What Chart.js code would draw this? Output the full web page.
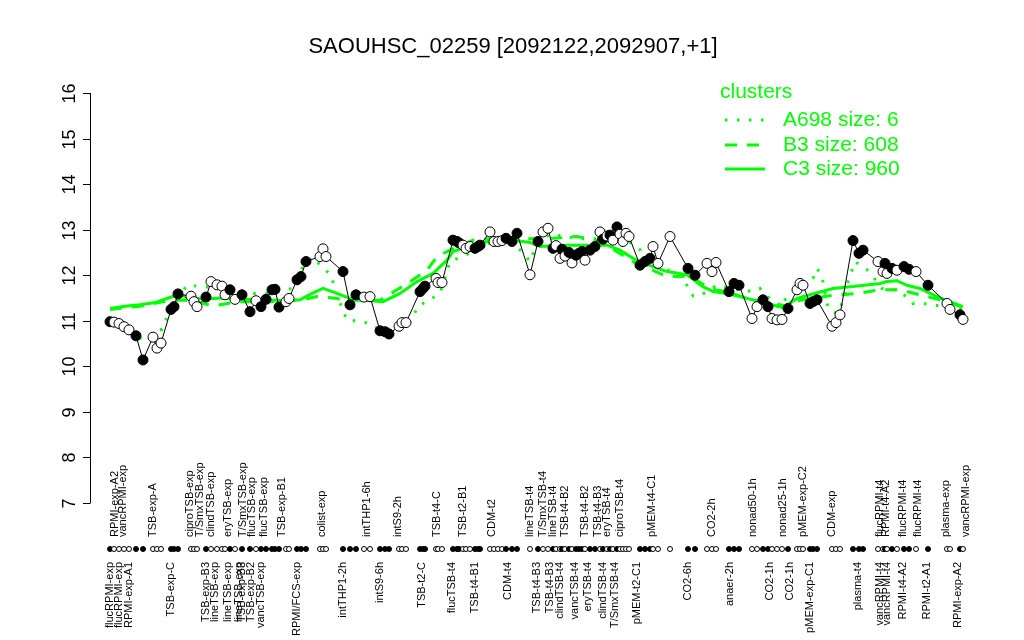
<!DOCTYPE html>
<html><head><meta charset="utf-8">
<script src="https://cdn.jsdelivr.net/npm/chart.js@4/dist/chart.umd.min.js"></script>
<style>html,body{margin:0;padding:0;background:#fff}#wrap{width:1024px;height:640px}</style>
</head><body><div id="wrap"><canvas id="c" width="1024" height="640"></canvas></div>
<script>
const titleText = 'SAOUHSC_02259 [2092122,2092907,+1]';
const yTicks = [7,8,9,10,11,12,13,14,15,16];
const samplePos = [2.5,3.5,4.75,6,7.25,9,10.75,13.25,14.25,15.25,17.75,18.5,19.5,22.75,23.5,24.25,26.5,27.75,29.25,30.5,31.25,32.5,33.75,35.5,37.5,39,40.25,41.5,43,43.75,44.75,46.5,47.25,49.25,50.25,51.5,55,55.75,56.5,60.75,62.5,64,66,67.5,70,71.25,72.25,74.75,75.5,76.5,80,80.75,81.25,84,84.5,85.5,88.25,89.25,89.75,90.75,91.5,92.5,93.75,94.5,95,97.5,98.5,99.5,100.5,101.5,103,104.25,107.5,109.5,110.75,112,113.25,114,115,115.5,116.25,117.25,118,119,119.75,120.5,121.25,122.5,123.75,125,125.75,126.75,127.5,128.25,129.25,130,130.75,131.5,132.25,135,136.25,137.5,138.25,139.5,142.5,147,148.75,151.75,153,154,157.25,158.5,159.75,163,164.25,165.75,167,168,169.25,170.5,172,174.25,175,175.75,177.5,178.25,179.25,183,184,185,188.25,189.75,190.75,194.5,195.75,196.25,196.75,198,199.25,201,202.25,204,207,211.75,212.5,215,215.75];
const expression = [10.98,10.97,10.94,10.87,10.80,10.67,10.14,10.64,10.40,10.51,11.25,11.31,11.59,11.54,11.42,11.31,11.52,11.86,11.79,11.76,11.57,11.68,11.47,11.57,11.20,11.44,11.31,11.47,11.68,11.69,11.30,11.42,11.49,11.90,11.97,12.30,12.41,12.58,12.41,12.08,11.35,11.57,11.52,11.53,10.78,10.76,10.71,10.88,10.96,10.96,11.64,11.71,11.76,11.93,11.84,11.84,12.77,12.74,12.71,12.66,12.59,12.63,12.59,12.63,12.66,12.95,12.74,12.74,12.76,12.81,12.74,12.92,12.01,12.74,12.95,13.03,12.59,12.65,12.37,12.57,12.42,12.50,12.27,12.44,12.48,12.52,12.33,12.55,12.63,12.95,12.79,12.86,12.88,12.77,13.06,12.90,12.74,12.92,12.85,12.22,12.30,12.37,12.63,12.26,12.85,12.15,12.00,12.26,12.08,12.28,11.64,11.82,11.78,11.05,11.31,11.46,11.31,11.05,11.02,11.03,11.27,11.68,11.82,11.78,11.38,11.42,11.46,10.88,10.96,11.13,12.76,12.48,12.55,12.30,12.08,12.26,12.04,12.15,12.11,12.19,12.13,12.08,11.78,11.38,11.25,11.13,11.03];
const filled = [1,0,0,0,0,1,1,0,0,0, 1,1,1,0,0,0,1,0,0,0, 0,1,0,1,1,0,1,1,1,1, 1,0,0,1,1,1,0,0,0,1, 1,1,0,0,1,1,1,0,0,0, 1,1,1,0,0,0,1,1,1,0, 0,0,1,1,1,0,0,0,0,1, 1,1,0,1,0,0,1,0,0,1, 0,1,0,1,1,1,0,1,1,0, 1,0,1,0,1,0,0,0,0,1, 1,1,0,0,0,1,1,0,0,0, 1,1,1,0,0,1,1,0,0,0, 1,0,0,0,1,1,1,0,0,0, 1,1,1,0,0,1,0,1,0,1, 1,0,1,0,0,1,0];
const topLabels = [[3.75,'RPMI-exp-A2'],[5.75,'vancRPMI-exp'],[13.25,'TSB-exp-A'],[22.5,'ciproTSB-exp'],[25,'T/SmxTSB-exp'],[27.75,'clindTSB-exp'],[32,'eryTSB-exp'],[35.75,'T/SmxTSB-exp'],[38,'flucTSB-exp'],[41,'flucTSB-exp'],[45.5,'TSB-exp-B1'],[55.5,'colist-exp'],[66.75,'intTHP1-6h'],[74.5,'intS9-2h'],[84.25,'TSB-t4-C'],[90.75,'TSB-t2-B1'],[98,'CDM-t2'],[107.5,'lineTSB-t4'],[110.75,'T/SmxTSB-t4'],[113.25,'lineTSB-t4'],[116.25,'TSB-t4-B2'],[121.25,'TSB-t4-B2'],[124.5,'TSB-t4-B3'],[126.75,'eryTSB-t4'],[130,'ciproTSB-t4'],[138,'pMEM-t4-C1'],[153,'CO2-2h'],[163.25,'nonad50-1h'],[170.75,'nonad25-1h'],[175.75,'pMEM-exp-C2'],[183,'CDM-exp'],[195,'flucRPMI-t4'],[196.5,'RPMI-t4-A2'],[200.75,'flucRPMI-t4'],[204.5,'flucRPMI-t4'],[211.5,'plasma-exp'],[216.5,'vancRPMI-exp']];
const bottomLabels = [[2.5,'flucRPMI-exp'],[4.75,'flucRPMI-exp'],[7.25,'RPMI-exp-A1'],[17.75,'TSB-exp-C'],[26.5,'TSB-exp-B3'],[28.75,'lineTSB-exp'],[32,'lineTSB-exp'],[34.75,'lineTSB-exp'],[35.5,'TSB-exp-B3'],[37.75,'TSB-exp-B2'],[40.25,'vancTSB-exp'],[49.25,'RPMI/FCS-exp'],[60.75,'intTHP1-2h'],[70,'intS9-6h'],[80.5,'TSB-t2-C'],[88,'flucTSB-t4'],[93.75,'TSB-t4-B1'],[102,'CDM-t4'],[109.25,'TSB-t4-B3'],[112.5,'TSB-t4-B3'],[115,'clindTSB-t4'],[118.75,'vancTSB-t4'],[122,'eryTSB-t4'],[125.75,'clindTSB-t4'],[128.75,'T/SmxTSB-t4'],[134.25,'pMEM-t2-C1'],[147,'CO2-6h'],[157.5,'anaer-2h'],[167.5,'CO2-1h'],[172.5,'CO2-1h'],[177.5,'pMEM-exp-C1'],[189.5,'plasma-t4'],[195,'vancRPMI-t4'],[196.75,'vancRPMI-t4'],[200.75,'RPMI-t4-A2'],[206.75,'RPMI-t2-A1'],[214.5,'RPMI-exp-A2']];
const c3Pos = [2.5,6.25,10,13.75,17.5,19.5,22.5,26.25,30.75,35,39.25,43.75,46.75,50,52.5,55.75,58.75,62.5,66.25,70.75,75,79.25,83.25,86.75,88.25,93.25,96.75,103.25,107.5,110,116.75,124.25,126.75,130,133.25,138.25,141.75,146.75,150.75,153.25,156.75,160,166.75,170.75,174.25,177.5,183.25,188.25,195,196.75,199.25,201.75,205,210,215.75];
const c3Val = [11.27,11.32,11.35,11.40,11.51,11.57,11.50,11.48,11.50,11.47,11.46,11.45,11.44,11.46,11.58,11.71,11.62,11.49,11.45,11.42,11.60,11.86,12.04,12.33,12.52,12.66,12.74,12.77,12.72,12.63,12.66,12.66,12.66,12.55,12.37,12.19,12.08,12.01,11.75,11.64,11.60,11.53,11.38,11.29,11.49,11.57,11.71,11.75,11.82,11.86,11.88,11.78,11.71,11.50,11.31];
const b3Pos = [2.5,10,17.5,22.5,28.25,35,42.5,50,54.25,58.25,62.5,70,74.25,77.5,81.75,84.25,87.5,93.25,100,107.5,113.25,119.25,125,133.25,141.75,147.5,152.5,157.5,161.25,166.25,171.25,175,182.5,189.25,195,200,205,210,215.75];
const b3Val = [11.25,11.32,11.45,11.45,11.33,11.42,11.42,11.45,11.53,11.50,11.45,11.45,11.68,11.86,12.11,12.41,12.55,12.77,12.82,12.80,12.81,12.85,12.75,12.30,11.97,11.98,11.70,11.62,11.50,11.42,11.33,11.45,11.55,11.60,11.68,11.68,11.57,11.46,11.30];
const a698Pos = [2.5,5,7.5,10,11.75,13,14.25,15.5,16.5,18,21.75,25,30.75,36.75,41.75,47.5,50,53,57.75,58.75,60,60.75,62,64.25,67,68.75,74.25,78,79.25,85,87.5,94.25,98.25,101.75,105.75,107.5,109.25,112.5,120,127.5,133.25,135.75,140,142.5,146.25,148.25,150,154.25,158.75,163.25,165,169.5,172,178.25,179.25,180.5,182,184.25,185.75,187,188.75,191.75,193.25,195.5,198,201.75,203.25,205.75,208.25,215.75];
const a698Val = [11.05,11.00,10.85,10.62,10.62,10.70,10.81,10.81,11.02,11.30,11.78,11.76,11.70,11.60,11.60,11.70,12.10,12.40,12.00,11.70,11.40,11.20,11.00,11.00,10.95,10.85,10.80,11.00,11.30,11.60,12.30,12.55,12.75,12.80,12.50,12.30,12.70,12.90,12.80,12.80,12.70,12.50,12.15,12.10,11.85,11.55,11.55,11.78,11.70,11.64,11.71,11.30,11.53,11.93,12.15,11.97,11.27,11.16,11.42,11.86,12.30,12.12,11.97,11.71,11.70,11.53,11.38,11.38,11.35,11.25];

const GREEN = '#00ff00';
const FONT = '"Liberation Sans", Arial, Helvetica, sans-serif';
const pts = samplePos.map((p,i)=>({x:p,y:expression[i]}));
const mk = (P,V)=>P.map((p,i)=>({x:p,y:V[i]}));

const decor = {
  id:'decor',
  afterDraw(chart){
    const ctx = chart.ctx, xs = chart.scales.x, ys = chart.scales.y;
    ctx.save();
    ctx.fillStyle = '#000';
    ctx.font = '22px ' + FONT;
    ctx.textAlign = 'center'; ctx.textBaseline = 'middle';
    ctx.fillText(titleText, 513, 47);
    const axX = chart.chartArea.left;
    ctx.strokeStyle = '#000'; ctx.lineWidth = 1;
    ctx.beginPath();
    ctx.moveTo(axX+0.5, ys.getPixelForValue(yTicks[0]));
    ctx.lineTo(axX+0.5, ys.getPixelForValue(yTicks[yTicks.length-1]));
    ctx.stroke();
    ctx.font = '18px ' + FONT;
    yTicks.forEach(t=>{
      const y = Math.round(ys.getPixelForValue(t))+0.5;
      ctx.beginPath(); ctx.moveTo(axX-7, y); ctx.lineTo(axX+0.5, y); ctx.stroke();
      ctx.save(); ctx.translate(axX-20, y); ctx.rotate(-Math.PI/2);
      ctx.textAlign='center'; ctx.textBaseline='middle'; ctx.fillText(String(t),0,0);
      ctx.restore();
    });
    samplePos.forEach((p,i)=>{
      const x = xs.getPixelForValue(p);
      ctx.beginPath(); ctx.arc(x, 549, 2.5, 0, Math.PI*2);
      ctx.fillStyle = filled[i] ? '#000' : '#fff'; ctx.fill();
      ctx.lineWidth = 1; ctx.strokeStyle = '#000'; ctx.stroke();
    });
    ctx.fillStyle = '#000';
    ctx.font = '11px ' + FONT;
    topLabels.forEach(([p,t])=>{
      const x = xs.getPixelForValue(p);
      ctx.save(); ctx.translate(x, 537); ctx.rotate(-Math.PI/2);
      ctx.textAlign='left'; ctx.textBaseline='middle'; ctx.fillText(t,0,0); ctx.restore();
    });
    bottomLabels.forEach(([p,t])=>{
      const x = xs.getPixelForValue(p);
      ctx.save(); ctx.translate(x, 562); ctx.rotate(-Math.PI/2);
      ctx.textAlign='right'; ctx.textBaseline='middle'; ctx.fillText(t,0,0); ctx.restore();
    });
    ctx.fillStyle = GREEN; ctx.strokeStyle = GREEN;
    ctx.font = '21px ' + FONT;
    ctx.textAlign='left'; ctx.textBaseline='middle';
    ctx.fillText('clusters', 720, 92);
    const rows = [['A698 size: 6',[2.5,9.5],120],['B3 size: 608',[12,10],145],['C3 size: 960',[],169]];
    rows.forEach(([t,d,y])=>{
      ctx.lineWidth = 3; ctx.setLineDash(d);
      ctx.beginPath(); ctx.moveTo(725,y); ctx.lineTo(765,y); ctx.stroke();
      ctx.setLineDash([]);
      ctx.fillText(t, 783, y);
    });
    ctx.restore();
  }
};

new Chart(document.getElementById('c'), {
  type:'line',
  data:{datasets:[
    {label:'expression', data:pts, borderColor:'#000', borderWidth:1, tension:0,
     pointRadius:5, pointHoverRadius:5, pointBorderWidth:1, pointBorderColor:'#000',
     pointBackgroundColor: filled.map(f=>f?'#000':'#fff'), order:0, clip:false},
    {label:'C3', data:mk(c3Pos,c3Val), borderColor:GREEN, borderWidth:3, pointRadius:0, tension:0, order:1, clip:false},
    {label:'B3', data:mk(b3Pos,b3Val), borderColor:GREEN, borderWidth:3, borderDash:[12,10], pointRadius:0, tension:0, order:2, clip:false},
    {label:'A698', data:mk(a698Pos,a698Val), borderColor:GREEN, borderWidth:3, borderDash:[2.5,9.5], pointRadius:0, tension:0, order:3, clip:false}
  ]},
  options:{
    responsive:false, animation:false, events:[],
    layout:{padding:{left:90,right:44,top:93,bottom:137}},
    scales:{
      x:{type:'linear', min:-2.5, max:220, display:false},
      y:{type:'linear', min:7, max:16, display:false}
    },
    plugins:{legend:{display:false}, tooltip:{enabled:false}, title:{display:false}}
  },
  plugins:[decor]
});
</script></body></html>
